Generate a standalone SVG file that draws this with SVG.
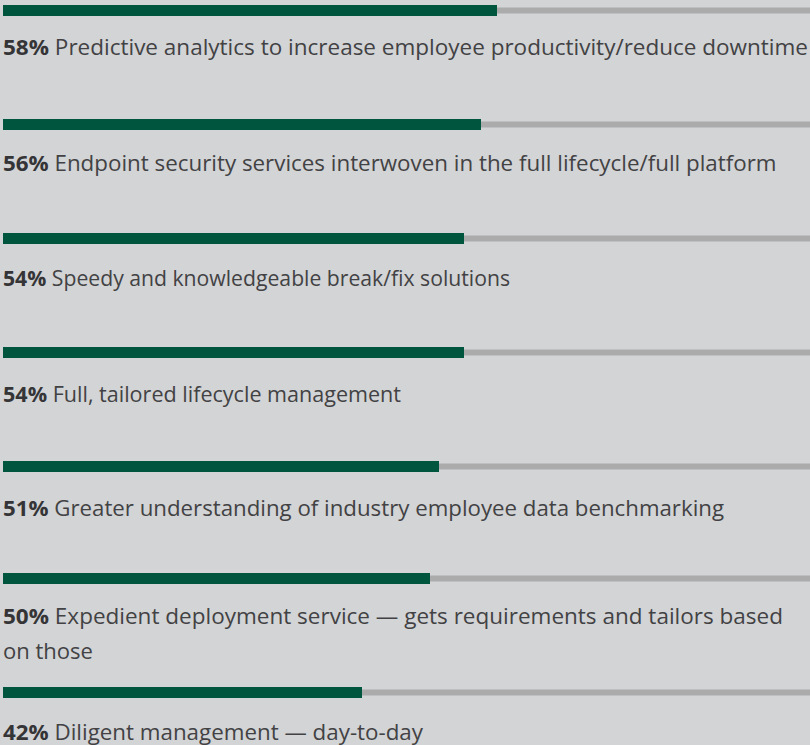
<svg xmlns="http://www.w3.org/2000/svg" width="810" height="745" viewBox="0 0 810 745">
<style>
.track{fill:#ababab}
.bar{fill:#00553e}
.lbl{font-family:"Open Sans","Noto Sans","Liberation Sans",sans-serif;font-size:21px;fill:#424244}
.pct{font-weight:bold;fill:#353537}
</style>
<rect width="810" height="745" fill="#d3d4d6"/>
<g id="row1">
<rect class="track" x="3" y="7.5" width="807" height="6"/>
<rect class="bar" x="3" y="5" width="494" height="11"/>
<text class="lbl" x="3" y="55" textLength="805" lengthAdjust="spacingAndGlyphs"><tspan class="pct">58%</tspan> Predictive analytics to increase employee productivity/reduce downtime</text>
</g>
<g id="row2">
<rect class="track" x="3" y="121.5" width="807" height="6"/>
<rect class="bar" x="3" y="119" width="478" height="11"/>
<text class="lbl" x="3" y="170.5" textLength="773.5" lengthAdjust="spacingAndGlyphs"><tspan class="pct">56%</tspan> Endpoint security services interwoven in the full lifecycle/full platform</text>
</g>
<g id="row3">
<rect class="track" x="3" y="235.5" width="807" height="6"/>
<rect class="bar" x="3" y="233" width="461" height="11"/>
<text class="lbl" x="3" y="286" textLength="507" lengthAdjust="spacingAndGlyphs"><tspan class="pct">54%</tspan> Speedy and knowledgeable break/fix solutions</text>
</g>
<g id="row4">
<rect class="track" x="3" y="349.5" width="807" height="6"/>
<rect class="bar" x="3" y="347" width="461" height="11"/>
<text class="lbl" x="3" y="401.5" textLength="398" lengthAdjust="spacingAndGlyphs"><tspan class="pct">54%</tspan> Full, tailored lifecycle management</text>
</g>
<g id="row5">
<rect class="track" x="3" y="463.5" width="807" height="6"/>
<rect class="bar" x="3" y="461" width="436" height="11"/>
<text class="lbl" x="3" y="516" textLength="721" lengthAdjust="spacingAndGlyphs"><tspan class="pct">51%</tspan> Greater understanding of industry employee data benchmarking</text>
</g>
<g id="row6">
<rect class="track" x="3" y="575.5" width="807" height="6"/>
<rect class="bar" x="3" y="573" width="427" height="11"/>
<text class="lbl" x="3" y="623.5" textLength="780" lengthAdjust="spacingAndGlyphs"><tspan class="pct">50%</tspan> Expedient deployment service — gets requirements and tailors based</text>
<text class="lbl" x="3" y="658.5" textLength="90" lengthAdjust="spacingAndGlyphs">on those</text>
</g>
<g id="row7">
<rect class="track" x="3" y="689.5" width="807" height="6"/>
<rect class="bar" x="3" y="687" width="359" height="11"/>
<text class="lbl" x="3" y="740" textLength="420" lengthAdjust="spacingAndGlyphs"><tspan class="pct">42%</tspan> Diligent management — day-to-day</text>
</g>
<g id="connectors"/>
</svg>
